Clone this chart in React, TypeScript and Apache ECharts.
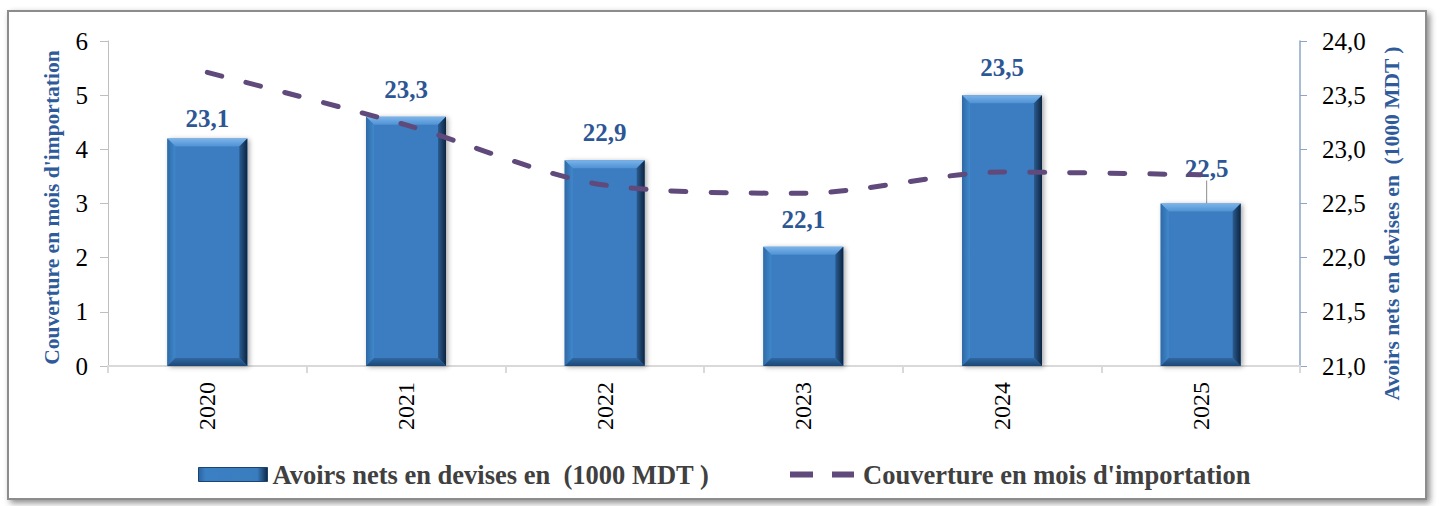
import React, { useEffect, useRef } from 'react';
import * as echarts from 'echarts';

const years = ['2020', '2021', '2022', '2023', '2024', '2025'];
const avoirs = [23.1, 23.3, 22.9, 22.1, 23.5, 22.5];
const couverture = [5.42, 4.45, 3.34, 3.19, 3.58, 3.53];
const leftAxisRange = { min: 0, max: 6, interval: 1 };
const rightAxisRange = { min: 21, max: 24, interval: 0.5 };
const barName = 'Avoirs nets en devises en  (1000 MDT )';
const lineName = "Couverture en mois d'importation";

const SERIF = "'Liberation Serif', 'Times New Roman', serif";
const fmtComma = (v: number, d: number) => v.toFixed(d).replace('.', ',');
const BAR_W = 80;
const BEVEL = 8;

export default function App() {
  const ref = useRef<HTMLDivElement>(null);
  useEffect(() => {
    if (!ref.current) return;
    const chart = echarts.init(ref.current, null, { renderer: 'svg' });
    const G = echarts.graphic.LinearGradient;
    const legendGradient = new G(0, 0, 1, 0, [
      { offset: 0, color: '#2a63a0' },
      { offset: 0.1, color: '#3b80c3' },
      { offset: 0.85, color: '#3a7dbf' },
      { offset: 1, color: '#0f2844' },
    ]);
    const barData = avoirs.map((v, i) =>
      i === 5
        ? { value: v, labelLine: { show: true, lineStyle: { color: '#8c8c8c', width: 1 } } }
        : { value: v }
    );
    const bevelItem = (params: any, api: any) => {
      const i = api.value(0);
      const top = api.coord([i, api.value(1)]);
      const base = api.coord([i, rightAxisRange.min]);
      const x0 = top[0] - BAR_W / 2;
      const x1 = top[0] + BAR_W / 2;
      const y0 = top[1];
      const y1 = base[1];
      const b = BEVEL;
      return {
        type: 'group',
        children: [
          {
            type: 'polygon',
            shape: { points: [[x0, y0], [x1, y0], [x1 - b, y0 + b], [x0 + b, y0 + b]] },
            style: { fill: new G(0, 0, 0, 1, [{ offset: 0, color: '#7cb4ea' }, { offset: 1, color: '#4f92d4' }]) },
          },
          {
            type: 'polygon',
            shape: { points: [[x0, y0], [x0 + b, y0 + b], [x0 + b, y1 - b], [x0, y1]] },
            style: { fill: new G(0, 0, 1, 0, [{ offset: 0, color: '#2f6aa6' }, { offset: 1, color: '#4088cc' }]) },
          },
          {
            type: 'polygon',
            shape: { points: [[x1, y0], [x1 - b, y0 + b], [x1 - b, y1 - b], [x1, y1]] },
            style: { fill: new G(0, 0, 1, 0, [{ offset: 0, color: '#2b5c90' }, { offset: 1, color: '#0d2440' }]) },
          },
          {
            type: 'polygon',
            shape: { points: [[x0, y1], [x0 + b, y1 - b], [x1 - b, y1 - b], [x1, y1]] },
            style: { fill: new G(0, 0, 0, 1, [{ offset: 0, color: '#2e68a3' }, { offset: 1, color: '#1c4775' }]) },
          },
        ],
      };
    };
    chart.setOption({
      animation: false,
      backgroundColor: '#ffffff',
      graphic: [
        {
          type: 'rect',
          z: -10,
          shape: { x: 8, y: 11, width: 1418, height: 488 },
          style: {
            fill: '#ffffff',
            stroke: '#8c8c8c',
            lineWidth: 2,
            shadowBlur: 6,
            shadowOffsetX: 3,
            shadowOffsetY: 3,
            shadowColor: 'rgba(0,0,0,0.45)',
          },
        },
      ],
      grid: { left: 108, right: 141, top: 41, bottom: 140 },
      legend: [
        {
          data: [{ name: barName, icon: 'rect', itemStyle: { color: legendGradient, borderColor: '#1d4470', borderWidth: 1 } }],
          left: 193,
          top: 456,
          itemWidth: 69,
          itemHeight: 14,
          textStyle: { fontFamily: SERIF, fontWeight: 'bold', fontSize: 26.5, color: '#404040' },
        },
        {
          data: [
            {
              name: lineName,
              icon: 'path://M0,0 L23,0 L23,6 L0,6 Z M42,0 L64,0 L64,6 L42,6 Z',
              itemStyle: { color: '#604a7b' },
            },
          ],
          left: 785,
          top: 456,
          itemWidth: 64,
          itemHeight: 6,
          textStyle: { fontFamily: SERIF, fontWeight: 'bold', fontSize: 26.5, color: '#404040', padding: [0, 0, 0, 4] },
        },
      ],
      xAxis: {
        type: 'category',
        data: years,
        boundaryGap: true,
        axisLine: { show: true, lineStyle: { color: '#d9d9d9', width: 2 } },
        axisTick: { show: true, alignWithLabel: false, length: 7, lineStyle: { color: '#d9d9d9', width: 2 } },
        axisLabel: { rotate: 90, fontFamily: SERIF, fontSize: 24, color: '#000000', margin: 16 },
      },
      yAxis: [
        {
          type: 'value',
          position: 'left',
          ...leftAxisRange,
          name: lineName,
          nameLocation: 'middle',
          nameRotate: 90,
          nameGap: 45,
          nameTextStyle: { fontFamily: SERIF, fontWeight: 'bold', fontSize: 21.5, color: '#2f5b9a', padding: [0, 8, 0, 0] },
          axisLine: { show: true, lineStyle: { color: '#bfbfbf', width: 1 } },
          axisTick: { show: true, length: 8, lineStyle: { color: '#bfbfbf' } },
          axisLabel: { fontFamily: SERIF, fontSize: 25, color: '#000000', margin: 20 },
          splitLine: { show: false },
        },
        {
          type: 'value',
          position: 'right',
          ...rightAxisRange,
          name: barName,
          nameLocation: 'middle',
          nameRotate: 90,
          nameGap: 81,
          nameTextStyle: { fontFamily: SERIF, fontWeight: 'bold', fontSize: 21.5, color: '#2f5b9a', padding: [0, 40, 0, 0] },
          axisLine: { show: true, lineStyle: { color: '#8ea6c6', width: 1.5 } },
          axisTick: { show: true, length: 7, lineStyle: { color: '#8ea6c6' } },
          axisLabel: {
            fontFamily: SERIF,
            fontSize: 25,
            color: '#000000',
            margin: 22,
            formatter: (v: number) => fmtComma(v, 1),
          },
          splitLine: { show: false },
        },
      ],
      series: [
        {
          name: barName,
          type: 'bar',
          yAxisIndex: 1,
          data: barData,
          barWidth: BAR_W,
          itemStyle: {
            color: '#3a7dc0',
            shadowBlur: 5,
            shadowOffsetX: 2,
            shadowOffsetY: 1,
            shadowColor: 'rgba(0,0,0,0.35)',
          },
          label: {
            show: true,
            position: 'top',
            distance: 15,
            fontFamily: SERIF,
            fontWeight: 'bold',
            fontSize: 25,
            color: '#2d5695',
            formatter: (p: any) => fmtComma(p.value, 1),
          },
          labelLayout: (p: any) =>
            p.dataIndex === 5 ? { dx: 6, dy: -8 } : p.dataIndex === 0 ? { dy: 7 } : {},
          labelLine: { show: false },
          z: 2,
        },
        {
          name: 'bevel',
          type: 'custom',
          yAxisIndex: 1,
          data: avoirs.map((v, i) => [i, v]),
          renderItem: bevelItem,
          silent: true,
          z: 3,
        },
        {
          name: lineName,
          type: 'line',
          yAxisIndex: 0,
          data: couverture,
          smooth: 0.3,
          symbol: 'none',
          lineStyle: { color: '#604a7b', width: 5, type: [15, 25], cap: 'round' },
          itemStyle: { color: '#604a7b' },
          z: 5,
        },
      ],
    });
    return () => chart.dispose();
  }, []);
  return (
    <div
      ref={ref}
      style={{ position: 'absolute', left: 0, top: 0, width: 1441, height: 506 }}
    />
  );
}
